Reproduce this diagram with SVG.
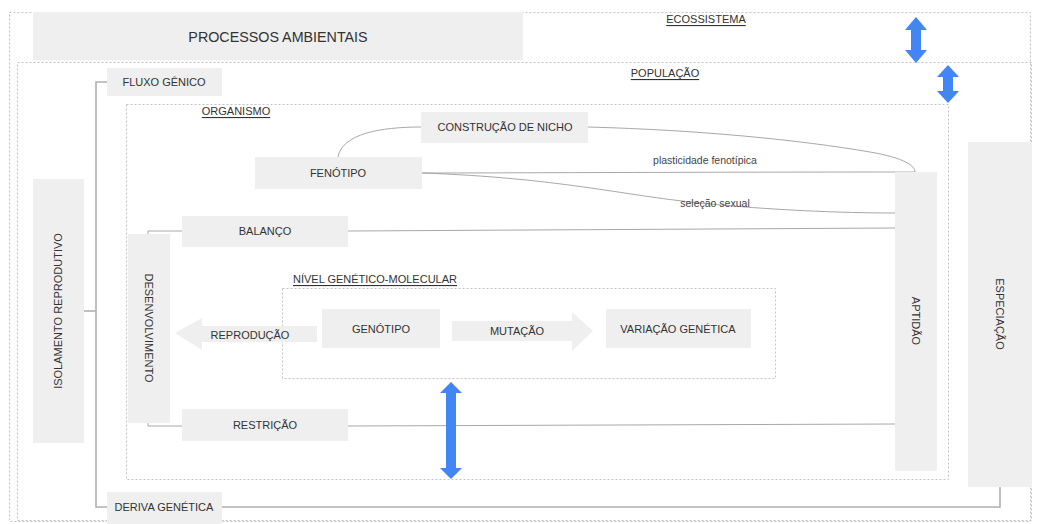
<svg xmlns="http://www.w3.org/2000/svg" width="1038" height="524" viewBox="0 0 1038 524">
  <style>
    .box { fill: #efefef; }
    .frame { fill: none; stroke: #c4c4c4; stroke-width: 1; stroke-dasharray: 2 2; }
    .lbl { font-family: "Liberation Sans", Arial, sans-serif; font-size: 11px; fill: #333; text-anchor: middle; dominant-baseline: central; }
    .title { font-family: "Liberation Sans", Arial, sans-serif; font-size: 11px; fill: #333; text-decoration: underline; text-anchor: middle; dominant-baseline: central; }
    .small { font-family: "Liberation Sans", Arial, sans-serif; font-size: 10.5px; fill: #444; text-anchor: middle; dominant-baseline: central; }
    .link { fill: none; stroke: #a8a8a8; stroke-width: 1; }
    .trunk { fill: none; stroke: #b0b0b0; stroke-width: 1.6; }
    .blue { fill: #4285f4; }
  </style>

  <rect width="1038" height="524" fill="#ffffff"/>

  <!-- nested levels -->
  <g id="ecossistema">
    <rect class="frame" x="9.5" y="12.5" width="1021" height="509"/>
    <text class="title" x="706" y="19">ECOSSISTEMA</text>
  </g>
  <g id="populacao">
    <rect class="frame" x="17.5" y="62.5" width="1014" height="458"/>
    <text class="title" x="665" y="73">POPULAÇÃO</text>
  </g>
  <g id="organismo">
    <rect class="frame" x="126.5" y="104.5" width="822" height="375"/>
    <text class="title" x="236" y="111">ORGANISMO</text>
  </g>
  <g id="nivel-genetico">
    <rect class="frame" x="282.5" y="288.5" width="493" height="90"/>
    <text class="title" x="375" y="279">NÍVEL GENÉTICO-MOLECULAR</text>
  </g>

  <!-- connectors -->
  <g id="connectors">
    <path class="trunk" d="M107 82 H96 V507 H107"/>
    <path class="trunk" d="M84 311 H96"/>
    <path class="trunk" d="M222 507 H1000 V487"/>
    <path class="link" d="M182 231 H148 V234"/>
    <path class="link" d="M182 426 H148 V423"/>
    <path class="link" d="M348 231 L895 228"/>
    <path class="link" d="M348 426 L897 424"/>
    <path class="link" d="M338 157 C342 134 380 127 421 127"/>
    <path class="link" d="M588 127 C700 130 800 140 870 152 C905 158 915 166 915 172"/>
    <path class="link" d="M422 173 C500 173 700 172 915 172"/>
    <path class="link" d="M422 173 C560 178 620 195 700 203 C770 210 840 213 896 213"/>
    <text class="small" x="705" y="160">plasticidade fenotípica</text>
    <text class="small" x="715" y="203">seleção sexual</text>
  </g>

  <!-- scale arrows -->
  <g id="seta-ecossistema-populacao">
    <path class="blue" d="M916 17 L927 30 H921 V50 H927 L916 63 L905 50 H911 V30 H905 Z"/>
  </g>
  <g id="seta-populacao-organismo">
    <path class="blue" d="M948 65 L959 77 H953 V91 H959 L948 103 L937 91 H943 V77 H937 Z"/>
  </g>
  <g id="seta-organismo-genetico">
    <path class="blue" d="M451 382 L462 393 H456 V468 H462 L451 479 L440 468 H446 V393 H440 Z"/>
  </g>

  <!-- nodes -->
  <g id="processos-ambientais">
    <rect class="box" x="33" y="12" width="490" height="48"/>
    <text class="lbl" x="278" y="37" style="font-size:14.3px">PROCESSOS AMBIENTAIS</text>
  </g>
  <g id="fluxo-genico">
    <rect class="box" x="107" y="68" width="115" height="28"/>
    <text class="lbl" x="164" y="82">FLUXO GÊNICO</text>
  </g>
  <g id="isolamento-reprodutivo">
    <rect class="box" x="33" y="179" width="51" height="264"/>
    <text class="lbl" transform="translate(58 311) rotate(-90)">ISOLAMENTO REPRODUTIVO</text>
  </g>
  <g id="deriva-genetica">
    <rect class="box" x="107" y="492" width="115" height="32"/>
    <text class="lbl" x="164" y="507">DERIVA GENÉTICA</text>
  </g>
  <g id="construcao-de-nicho">
    <rect class="box" x="421" y="112" width="167" height="31"/>
    <text class="lbl" x="505" y="127">CONSTRUÇÃO DE NICHO</text>
  </g>
  <g id="fenotipo">
    <rect class="box" x="255" y="157" width="167" height="32"/>
    <text class="lbl" x="338" y="173">FENÓTIPO</text>
  </g>
  <g id="balanco">
    <rect class="box" x="182" y="216" width="166" height="31"/>
    <text class="lbl" x="265" y="231">BALANÇO</text>
  </g>
  <g id="desenvolvimento">
    <rect class="box" x="128" y="234" width="42" height="189"/>
    <text class="lbl" transform="translate(149 328) rotate(90)">DESENVOLVIMENTO</text>
  </g>
  <g id="restricao">
    <rect class="box" x="182" y="409" width="166" height="32"/>
    <text class="lbl" x="265" y="425">RESTRIÇÃO</text>
  </g>
  <g id="reproducao">
    <path class="box" d="M175 333 L202 318 V326 H317 V342 H202 V350 Z"/>
    <text class="lbl" x="250" y="335">REPRODUÇÃO</text>
  </g>
  <g id="genotipo">
    <rect class="box" x="322" y="309" width="118" height="39"/>
    <text class="lbl" x="381" y="329">GENÓTIPO</text>
  </g>
  <g id="mutacao">
    <path class="box" d="M452 321 H572 V312 L593 331 L572 351 V341 H452 Z"/>
    <text class="lbl" x="517" y="331">MUTAÇÃO</text>
  </g>
  <g id="variacao-genetica">
    <rect class="box" x="606" y="309" width="145" height="39"/>
    <text class="lbl" x="678" y="329">VARIAÇÃO GENÉTICA</text>
  </g>
  <g id="aptidao">
    <rect class="box" x="895" y="172" width="42" height="299"/>
    <text class="lbl" transform="translate(916 321) rotate(90)">APTIDÃO</text>
  </g>
  <g id="especiacao">
    <rect class="box" x="968" y="142" width="64" height="345"/>
    <text class="lbl" transform="translate(1000 314) rotate(90)">ESPECIAÇÃO</text>
  </g>
</svg>
